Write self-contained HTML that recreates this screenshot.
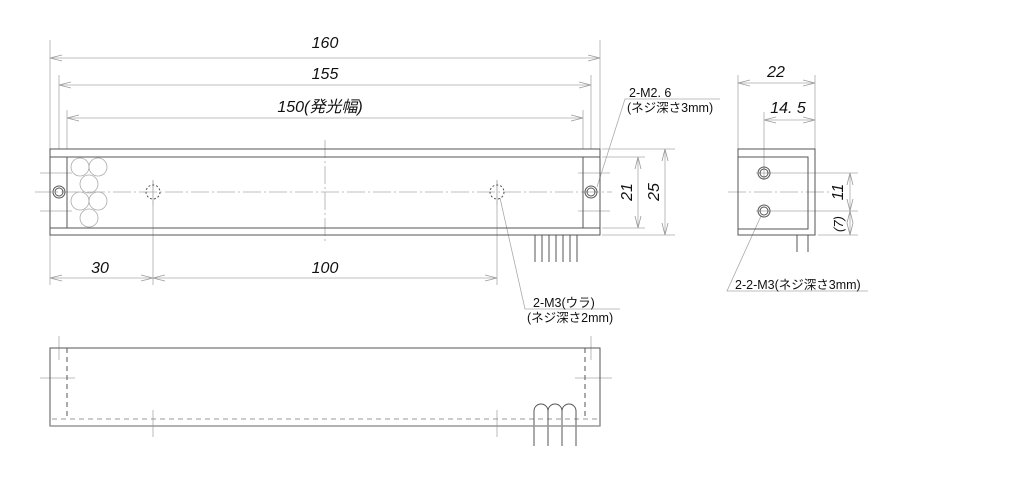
<!DOCTYPE html>
<html><head><meta charset="utf-8"><style>
html,body{margin:0;padding:0;background:#fff;}
svg{display:block}
.d{font-family:"Liberation Sans Narrow","Liberation Sans",sans-serif;font-style:italic;font-size:16px;fill:#111}
.j{font-family:"Liberation Sans Narrow","Liberation Sans","Noto Sans CJK JP",sans-serif;font-size:12.5px;fill:#111}
</style></head><body>
<svg width="1016" height="481" viewBox="0 0 1016 481" xmlns="http://www.w3.org/2000/svg">
<defs>
<marker id="a" markerWidth="12" markerHeight="8" refX="12" refY="4" orient="auto-start-reverse" markerUnits="userSpaceOnUse">
<path d="M0,1 L12,4 L0,7" fill="none" stroke="#999" stroke-width="0.8"/>
</marker>
</defs>
<g fill="none" stroke="#aaa" stroke-width="0.8">
<!-- extension lines front -->
<line x1="50" y1="40" x2="50" y2="149"/><line x1="600" y1="40" x2="600" y2="149"/>
<line x1="59" y1="75" x2="59" y2="149"/><line x1="591" y1="75" x2="591" y2="149"/>
<line x1="67" y1="110" x2="67" y2="149"/><line x1="583" y1="110" x2="583" y2="149"/>
<line x1="50" y1="235" x2="50" y2="285"/><line x1="153" y1="180" x2="153" y2="285"/><line x1="497" y1="180" x2="497" y2="285"/>
<line x1="602" y1="149" x2="675" y2="149"/><line x1="602" y1="235" x2="675" y2="235"/>
<line x1="602" y1="157" x2="645" y2="157"/><line x1="602" y1="228" x2="645" y2="228"/>
<!-- dimension lines -->
<line x1="50" y1="58" x2="600" y2="58" marker-start="url(#a)" marker-end="url(#a)"/>
<line x1="59" y1="85" x2="591" y2="85" marker-start="url(#a)" marker-end="url(#a)"/>
<line x1="67" y1="118" x2="583" y2="118" marker-start="url(#a)" marker-end="url(#a)"/>
<line x1="50" y1="278" x2="153" y2="278" marker-start="url(#a)" marker-end="url(#a)"/>
<line x1="153" y1="278" x2="497" y2="278" marker-start="url(#a)" marker-end="url(#a)"/>
<line x1="638" y1="157" x2="638" y2="228" marker-start="url(#a)" marker-end="url(#a)"/>
<line x1="665" y1="149" x2="665" y2="235" marker-start="url(#a)" marker-end="url(#a)"/>
<!-- centerlines -->
<line x1="35" y1="192" x2="612" y2="192" stroke-dasharray="18,3,2,3"/>
<line x1="325" y1="140" x2="325" y2="244" stroke-dasharray="18,3,2,3"/>
<line x1="153" y1="180" x2="153" y2="205"/><line x1="497" y1="180" x2="497" y2="205"/>
<line x1="40" y1="173" x2="72" y2="173"/><line x1="40" y1="211" x2="72" y2="211"/>
<line x1="578" y1="173" x2="610" y2="173"/><line x1="578" y1="211" x2="610" y2="211"/>
<!-- LED circles -->
<circle cx="80" cy="167" r="9"/><circle cx="98" cy="167" r="9"/><circle cx="89" cy="184" r="9"/>
<circle cx="80" cy="201" r="9"/><circle cx="98" cy="201" r="9"/><circle cx="89" cy="218" r="9"/>
<!-- leaders -->
<polyline points="597,187 625,99 720,99"/>
<polyline points="500,198 525,309 620,309"/>
<polyline points="761,216 727,291 868,291"/>
<!-- side view dims -->
<line x1="738" y1="75" x2="738" y2="149"/><line x1="815" y1="75" x2="815" y2="149"/>
<line x1="764" y1="112" x2="764" y2="180"/>
<line x1="738" y1="83" x2="815" y2="83" marker-start="url(#a)" marker-end="url(#a)"/>
<line x1="764" y1="120" x2="815" y2="120" marker-start="url(#a)" marker-end="url(#a)"/>
<line x1="756" y1="173" x2="858" y2="173"/><line x1="756" y1="211" x2="858" y2="211"/>
<line x1="818" y1="235" x2="858" y2="235"/>
<line x1="850" y1="173" x2="850" y2="211" marker-start="url(#a)" marker-end="url(#a)"/>
<line x1="850" y1="211" x2="850" y2="235" marker-start="url(#a)" marker-end="url(#a)"/>
<line x1="728" y1="192" x2="832" y2="192" stroke-dasharray="18,3,2,3"/>
<!-- bottom view crosses -->
<line x1="59" y1="336" x2="59" y2="360"/><line x1="591" y1="336" x2="591" y2="360"/>
<line x1="40" y1="378" x2="75" y2="378"/><line x1="575" y1="378" x2="612" y2="378"/>
<line x1="153" y1="410" x2="153" y2="437"/><line x1="497" y1="410" x2="497" y2="437"/>
</g>
<g fill="none" stroke="#555" stroke-width="1">
<!-- front view -->
<rect x="50" y="149" width="550" height="86"/>
<line x1="50" y1="157" x2="600" y2="157"/><line x1="50" y1="228" x2="600" y2="228"/>
<line x1="67" y1="157" x2="67" y2="228"/><line x1="583" y1="157" x2="583" y2="228"/>
<circle cx="59" cy="192" r="6"/><circle cx="59" cy="192" r="4"/>
<circle cx="591" cy="192" r="6"/><circle cx="591" cy="192" r="4"/>
<circle cx="153" cy="192" r="7" stroke-dasharray="2,2"/>
<circle cx="497" cy="192" r="7" stroke-dasharray="2,2"/>
<!-- cables -->
<line x1="535" y1="235" x2="535" y2="262"/><line x1="542" y1="235" x2="542" y2="262"/>
<line x1="549" y1="235" x2="549" y2="262"/><line x1="556" y1="235" x2="556" y2="262"/>
<line x1="563" y1="235" x2="563" y2="262"/><line x1="570" y1="235" x2="570" y2="262"/>
<line x1="577" y1="235" x2="577" y2="262"/>
<!-- side view -->
<rect x="738" y="149" width="77" height="86"/>
<polyline points="738,157 808,157 808,229 738,229"/>
<circle cx="764" cy="173" r="6"/><circle cx="764" cy="173" r="4"/>
<circle cx="764" cy="211" r="6"/><circle cx="764" cy="211" r="4"/>
<line x1="797" y1="235" x2="797" y2="252"/><line x1="808" y1="235" x2="808" y2="252"/>
<!-- bottom view -->
<rect x="50" y="348" width="550" height="78"/>
<line x1="67" y1="348" x2="67" y2="419" stroke-dasharray="5,4"/>
<line x1="585" y1="348" x2="585" y2="419" stroke-dasharray="5,4"/>
<line x1="52" y1="419" x2="598" y2="419" stroke-dasharray="5,4" stroke="#999"/>
<path d="M534,446 V411 a7,7 0 0 1 14,0 V446 M548,446 V411 a7,7 0 0 1 14,0 V446 M562,446 V411 a7,7 0 0 1 14,0 V446"/>
</g>
<line x1="50" y1="426" x2="600" y2="426" stroke="#999" stroke-width="1.5"/>
<!-- text -->
<text class="d" x="325" y="48" text-anchor="middle">160</text>
<text class="d" x="325" y="79" text-anchor="middle">155</text>
<text class="d" x="320" y="112" text-anchor="middle">150(発光幅)</text>
<text class="d" x="100" y="273" text-anchor="middle">30</text>
<text class="d" x="325" y="273" text-anchor="middle">100</text>
<text class="d" transform="translate(632,192) rotate(-90)" text-anchor="middle">21</text>
<text class="d" transform="translate(659,192) rotate(-90)" text-anchor="middle">25</text>
<text class="d" x="776" y="77" text-anchor="middle">22</text>
<text class="d" x="788" y="113" text-anchor="middle">14. 5</text>
<text class="d" transform="translate(843,192) rotate(-90)" text-anchor="middle">11</text>
<text class="d" transform="translate(843,224) rotate(-90)" text-anchor="middle" style="font-size:13px">(7)</text>
<text class="j" x="629" y="97">2-M2. 6</text>
<text class="j" x="627" y="112">(ネジ深さ3mm)</text>
<text class="j" x="533" y="307">2-M3(ウラ)</text>
<text class="j" x="527" y="322">(ネジ深さ2mm)</text>
<text class="j" x="735" y="289">2-2-M3(ネジ深さ3mm)</text>
</svg>
</body></html>
